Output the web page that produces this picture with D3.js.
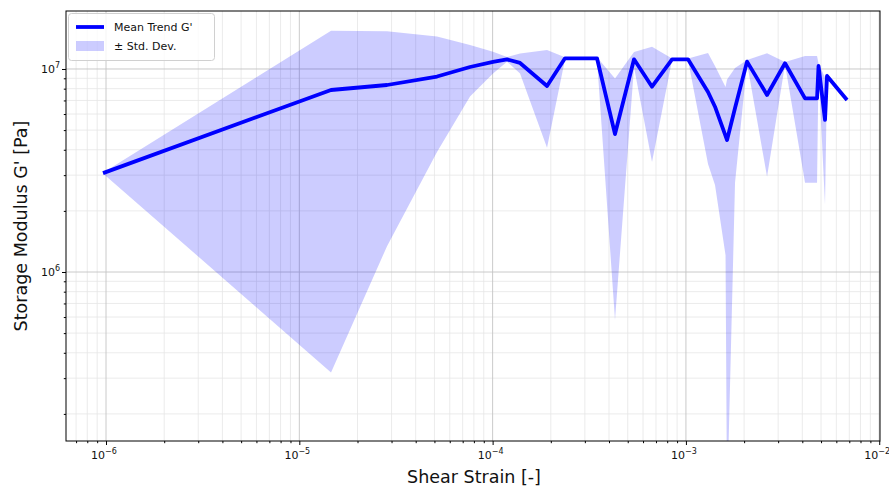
<!DOCTYPE html>
<html>
<head>
<meta charset="utf-8">
<script src="https://cdn.jsdelivr.net/npm/d3@7"></script>
<style>
body { margin: 0; background: #fff; }
text { font-family: "DejaVu Sans", sans-serif; fill: #111; }
</style>
</head>
<body>
<svg id="chart" width="889" height="491"></svg>
<script>
// strain points, mean G' and std dev (Pa)
var strain = [9.65e-7, 1.459e-5, 2.843e-5, 5.157e-5, 7.64e-5, 1.005e-4, 1.187e-4, 1.386e-4,
  1.912e-4, 2.368e-4, 2.866e-4, 3.467e-4, 4.296e-4, 5.389e-4, 6.677e-4, 8.477e-4,
  1.025e-3, 1.301e-3, 1.414e-3, 1.603e-3, 1.632e-3, 1.795e-3, 2.071e-3, 2.628e-3,
  3.256e-3, 4.132e-3, 4.768e-3, 4.853e-3, 5.243e-3, 5.370e-3, 6.815e-3];
var meanG = [3.07e6, 7.88e6, 8.34e6, 9.18e6, 1.023e7, 1.083e7, 1.116e7, 1.071e7,
  8.25e6, 1.129e7, 1.129e7, 1.129e7, 4.78e6, 1.116e7, 8.18e6, 1.116e7,
  1.116e7, 7.70e6, 6.52e6, 4.68e6, 4.47e6, 6.43e6, 1.087e7, 7.45e6,
  1.067e7, 7.17e6, 7.17e6, 1.035e7, 5.61e6, 9.24e6, 7.03e6];
var stdG = [0.01e6, 7.56e6, 7.0e6, 5.28e6, 2.9e6, 1.34e6, 0.3e6, 1.2e6,
  4.16e6, 0.15e6, 0.1e6, 0.15e6, 4.2e6, 0.96e6, 4.7e6, 0.1e6,
  0.1e6, 4.3e6, 3.84e6, 3.47e6, 4.4e6, 3.68e6, 0.2e6, 4.5e6,
  0.15e6, 4.42e6, 4.42e6, 0.3e6, 3.47e6, 0.3e6, 0.1e6];

var xTicks = [1e-6, 1e-5, 1e-4, 1e-3, 1e-2];
var xTickExp = ["\u22126", "\u22125", "\u22124", "\u22123", "\u22122"];
var yTicks = [1e6, 1e7];
var yTickExp = ["6", "7"];
var legendLabels = ["Mean Trend G'", "\u00b1 Std. Dev."];

var svg = d3.select("#chart");
var pLeft = 66, pRight = 880, pTop = 11, pBottom = 441;

var x = d3.scaleLog()
    .domain([Math.pow(10, -6.207), Math.pow(10, -1.996)])
    .range([pLeft, pRight]);
var y = d3.scaleLog()
    .domain([Math.pow(10, 5.1675), Math.pow(10, 7.2857)])
    .range([pBottom, pTop]);

// minor tick positions (2..9 per decade) inside the domain
function minors(scale, e0, e1) {
  var out = [], d = scale.domain();
  for (var e = e0; e <= e1; e++)
    for (var m = 2; m <= 9; m++) {
      var v = m * Math.pow(10, e);
      if (v >= d[0] && v <= d[1]) out.push(v);
    }
  return out;
}
var xMinor = minors(x, -7, -2);
var yMinor = minors(y, 5, 7);

svg.append("defs").append("clipPath").attr("id", "clip")
  .append("rect").attr("x", pLeft).attr("y", pTop)
  .attr("width", pRight - pLeft).attr("height", pBottom - pTop);

// grid
var grid = svg.append("g");
grid.selectAll(".gxm").data(xMinor).enter().append("line")
    .attr("x1", x).attr("x2", x).attr("y1", pTop).attr("y2", pBottom)
    .attr("stroke", "#e6e6e6").attr("stroke-width", 0.8);
grid.selectAll(".gym").data(yMinor).enter().append("line")
    .attr("x1", pLeft).attr("x2", pRight).attr("y1", y).attr("y2", y)
    .attr("stroke", "#e6e6e6").attr("stroke-width", 0.8);
grid.selectAll(".gx").data(xTicks).enter().append("line")
    .attr("x1", x).attr("x2", x).attr("y1", pTop).attr("y2", pBottom)
    .attr("stroke", "#c4c4c4").attr("stroke-width", 0.9);
grid.selectAll(".gy").data(yTicks).enter().append("line")
    .attr("x1", pLeft).attr("x2", pRight).attr("y1", y).attr("y2", y)
    .attr("stroke", "#c4c4c4").attr("stroke-width", 0.9);

// band and mean line
var pts = strain.map(function(s, i) { return {s: s, m: meanG[i], sd: stdG[i]}; });

var band = d3.area()
    .x(function(d) { return x(d.s); })
    .y0(function(d) { return y(Math.max(d.m - d.sd, 1)); })
    .y1(function(d) { return y(d.m + d.sd); });

var line = d3.line()
    .x(function(d) { return x(d.s); })
    .y(function(d) { return y(d.m); });

var plot = svg.append("g").attr("clip-path", "url(#clip)");
plot.append("path").datum(pts).attr("d", band)
    .attr("fill", "rgba(0,0,255,0.2)");
plot.append("path").datum(pts).attr("d", line)
    .attr("fill", "none").attr("stroke", "#0000ff")
    .attr("stroke-width", 3.8).attr("stroke-linejoin", "round");

// axes (tick marks only, labels drawn with superscripts)
svg.append("g").attr("transform", "translate(0," + pBottom + ")")
    .call(d3.axisBottom(x).tickValues(xTicks).tickSize(4).tickFormat(""))
    .call(function(g) { g.select(".domain").remove(); });
svg.append("g").attr("transform", "translate(0," + pBottom + ")")
    .call(d3.axisBottom(x).tickValues(xMinor).tickSize(2.2).tickFormat(""))
    .call(function(g) { g.select(".domain").remove(); });
svg.append("g").attr("transform", "translate(" + pLeft + ",0)")
    .call(d3.axisLeft(y).tickValues(yTicks).tickSize(4).tickFormat(""))
    .call(function(g) { g.select(".domain").remove(); });
svg.append("g").attr("transform", "translate(" + pLeft + ",0)")
    .call(d3.axisLeft(y).tickValues(yMinor).tickSize(2.2).tickFormat(""))
    .call(function(g) { g.select(".domain").remove(); });

var xl = svg.selectAll(".xl").data(xTicks).enter().append("text")
    .attr("x", function(d) { return x(d) - 2; }).attr("y", 459)
    .attr("text-anchor", "middle").style("font-size", "11px");
xl.append("tspan").text("10");
xl.append("tspan").attr("dy", -5).style("font-size", "8px")
    .text(function(d, i) { return xTickExp[i]; });

var yl = svg.selectAll(".yl").data(yTicks).enter().append("text")
    .attr("x", 60).attr("y", function(d) { return y(d) + 4; })
    .attr("text-anchor", "end").style("font-size", "11px");
yl.append("tspan").text("10");
yl.append("tspan").attr("dy", -5).style("font-size", "8px")
    .text(function(d, i) { return yTickExp[i]; });

// frame
svg.append("rect").attr("x", pLeft).attr("y", pTop)
    .attr("width", pRight - pLeft).attr("height", pBottom - pTop)
    .attr("fill", "none").attr("stroke", "#000").attr("stroke-width", 1);

// axis titles
svg.append("text").attr("x", 474).attr("y", 483)
    .attr("text-anchor", "middle").style("font-size", "17.5px")
    .text("Shear Strain [-]");
svg.append("text")
    .attr("transform", "translate(27," + ((pTop + pBottom) / 2) + ") rotate(-90)")
    .attr("text-anchor", "middle").style("font-size", "17.5px")
    .text("Storage Modulus G' [Pa]");

// legend
var lg = svg.append("g");
lg.append("rect").attr("x", 68.5).attr("y", 13.5).attr("width", 146).attr("height", 47)
    .attr("rx", 3).attr("fill", "#fff").attr("fill-opacity", 0.8)
    .attr("stroke", "#d0d0d0");
lg.append("line").attr("x1", 76).attr("x2", 104).attr("y1", 27).attr("y2", 27)
    .attr("stroke", "#0000ff").attr("stroke-width", 3.8);
lg.append("rect").attr("x", 76).attr("y", 41).attr("width", 28).attr("height", 10)
    .attr("fill", "rgba(0,0,255,0.2)");
lg.selectAll(".lt").data(legendLabels).enter().append("text")
    .attr("x", 114).attr("y", function(d, i) { return 31 + i * 19; })
    .style("font-size", "11px").text(function(d) { return d; });
</script>
</body>
</html>
